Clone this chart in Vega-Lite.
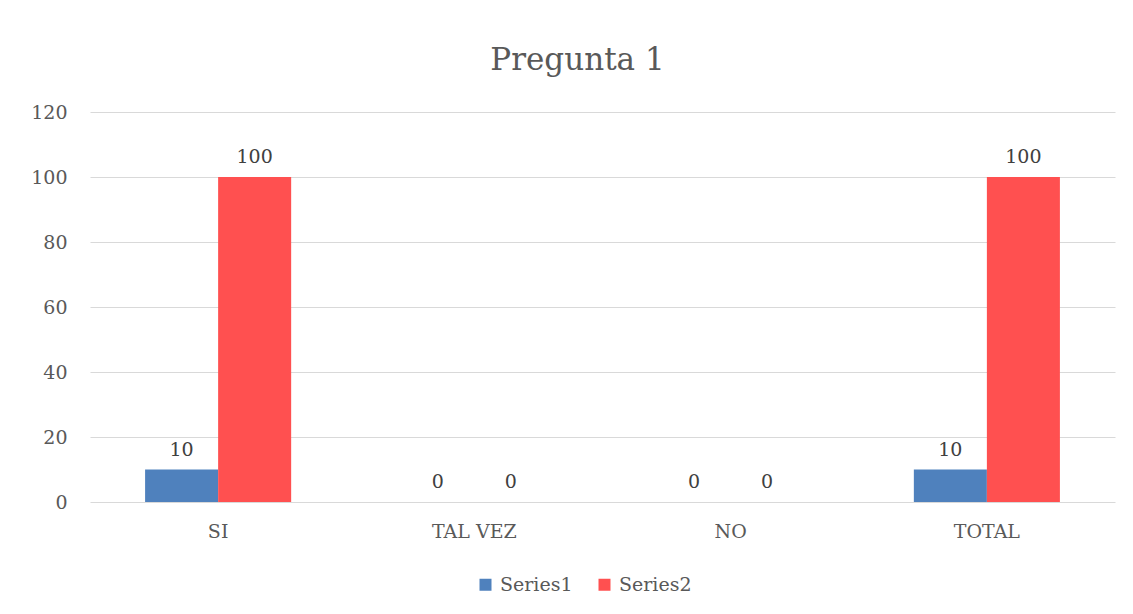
{
  "$schema": "https://vega.github.io/schema/vega-lite/v6.json",
  "autosize": "none",
  "width": 1025,
  "height": 390,
  "padding": {"left": 90, "top": 112, "right": 18, "bottom": 112},
  "background": "white",
  "config": {
    "font": "DejaVu Serif",
    "view": {"stroke": null}
  },
  "title": {
    "text": "Pregunta 1",
    "fontSize": 31,
    "fontWeight": "normal",
    "color": "#595959",
    "font": "DejaVu Serif",
    "anchor": "middle",
    "dx": -25,
    "offset": 26
  },
  "data": {
    "values": [
      {"category": "SI", "series": "Series1", "value": 10},
      {"category": "SI", "series": "Series2", "value": 100},
      {"category": "TAL VEZ", "series": "Series1", "value": 0},
      {"category": "TAL VEZ", "series": "Series2", "value": 0},
      {"category": "NO", "series": "Series1", "value": 0},
      {"category": "NO", "series": "Series2", "value": 0},
      {"category": "TOTAL", "series": "Series1", "value": 10},
      {"category": "TOTAL", "series": "Series2", "value": 100}
    ]
  },
  "encoding": {
    "x": {
      "field": "category",
      "type": "nominal",
      "sort": ["SI", "TAL VEZ", "NO", "TOTAL"],
      "scale": {"paddingInner": 0.43, "paddingOuter": 0.215},
      "axis": {
        "title": null,
        "labelAngle": 0,
        "domain": false,
        "ticks": false,
        "labelPadding": 20,
        "labelFontSize": 19,
        "labelColor": "#595959",
        "labelFont": "DejaVu Serif"
      }
    },
    "xOffset": {"field": "series", "type": "nominal", "scale": {"paddingInner": 0, "paddingOuter": 0}},
    "y": {
      "field": "value",
      "type": "quantitative",
      "scale": {"domain": [0, 120], "nice": false},
      "axis": {
        "title": null,
        "values": [0, 20, 40, 60, 80, 100, 120],
        "domain": false,
        "ticks": false,
        "labelPadding": 23,
        "labelFontSize": 19,
        "labelColor": "#595959",
        "labelFont": "DejaVu Serif",
        "gridColor": "#d9d9d9",
        "gridWidth": 1
      }
    }
  },
  "layer": [
    {
      "mark": {"type": "bar"},
      "encoding": {
        "color": {
          "field": "series",
          "type": "nominal",
          "scale": {"domain": ["Series1", "Series2"], "range": ["#4F81BD", "#FF5050"]},
          "legend": {
            "title": null,
            "orient": "none",
            "legendX": 386,
            "legendY": 463,
            "direction": "horizontal",
            "symbolType": "square",
            "symbolSize": 144,
            "symbolStrokeWidth": 0,
            "labelFontSize": 19,
            "labelColor": "#595959",
            "labelFont": "DejaVu Serif",
            "labelOffset": 5,
            "columnPadding": 22
          }
        }
      }
    },
    {
      "mark": {"type": "text", "baseline": "alphabetic", "dy": -14, "fontSize": 19, "color": "#404040", "font": "DejaVu Serif"},
      "encoding": {
        "text": {"field": "value", "type": "quantitative"}
      }
    }
  ]
}
